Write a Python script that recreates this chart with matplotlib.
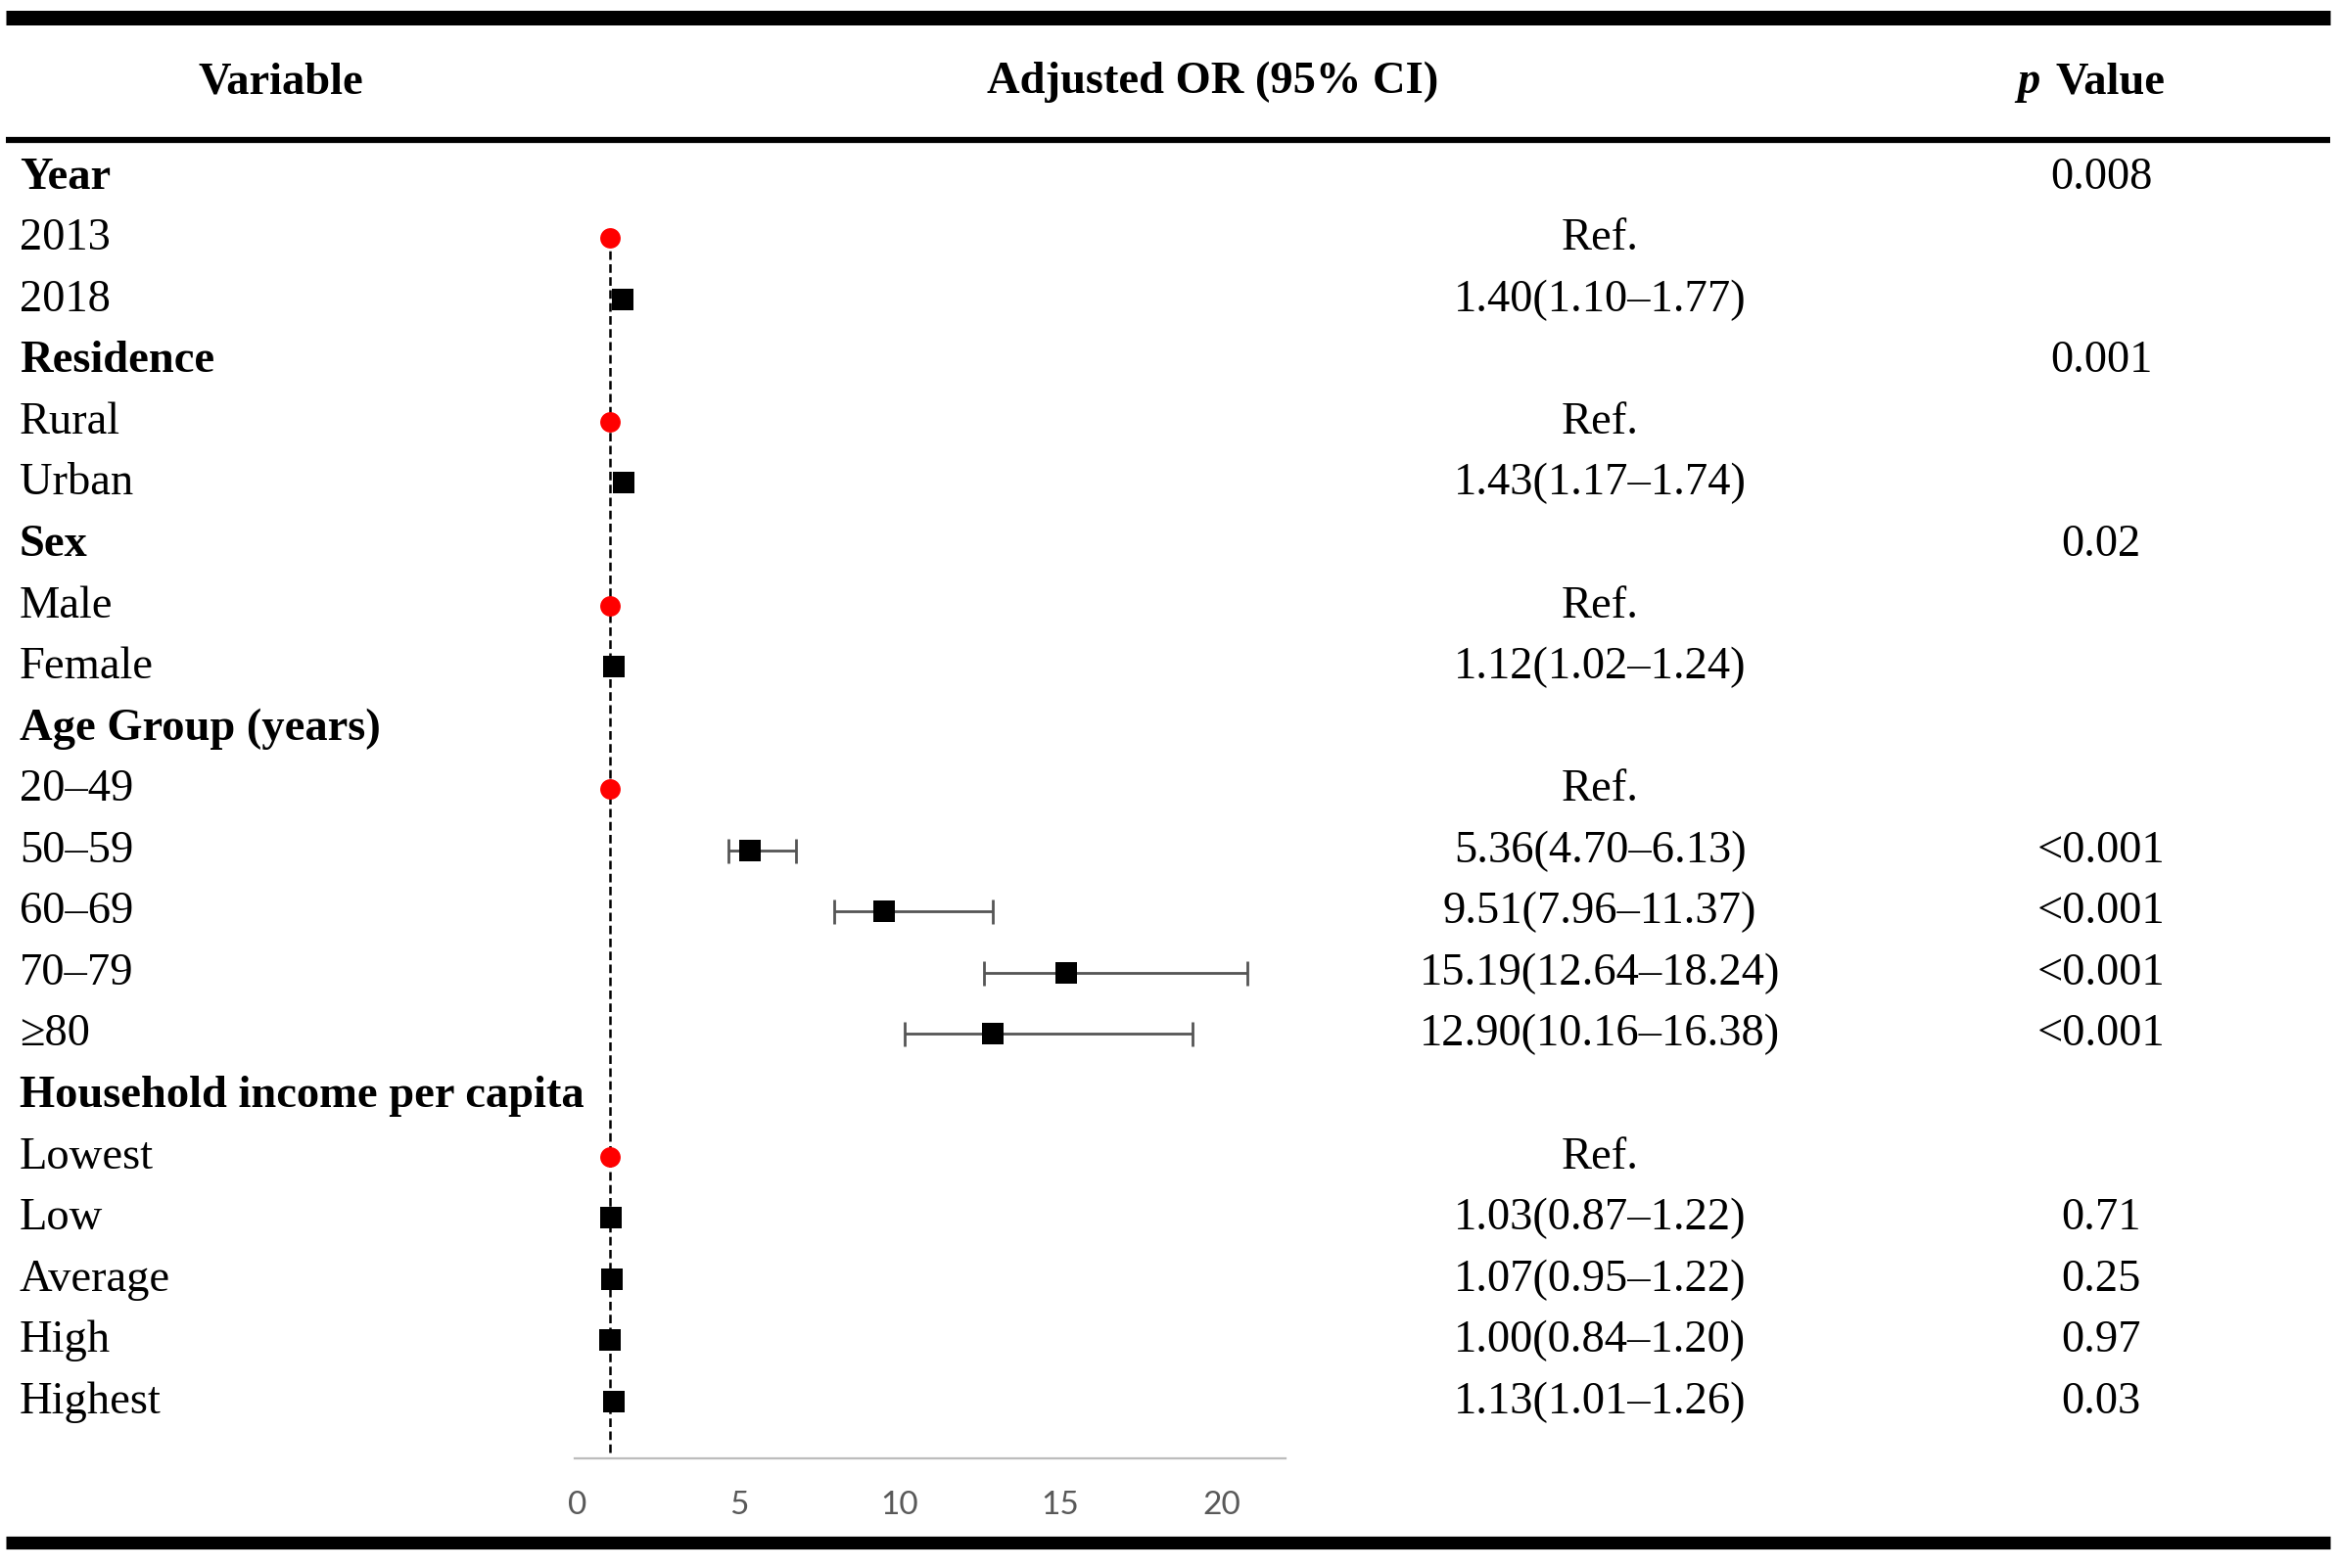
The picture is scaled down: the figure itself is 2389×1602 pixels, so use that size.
import numpy as np
import matplotlib
matplotlib.use("Agg")
import matplotlib.pyplot as plt

"""
Forest plot table of adjusted odds ratios, drawn as a table with an
inline forest plot column.
"""

# Group headers and the p value printed on the header row.
group_names = ["Year", "Residence", "Sex", "Age Group (years)", "Household income per capita"]
group_p = ["0.008", "0.001", "0.02", "", ""]

# Levels for each group.
levels = [
    ["2013", "2018"],
    ["Rural", "Urban"],
    ["Male", "Female"],
    ["20\u201349", "50\u201359", "60\u201369", "70\u201379", "\u226580"],
    ["Lowest", "Low", "Average", "High", "Highest"],
]

# Level values, in the same order as the flattened levels.
is_ref = [True, False, True, False, True, False,
          True, False, False, False, False,
          True, False, False, False, False]
odds = [1.00, 1.40, 1.00, 1.43, 1.00, 1.12,
        1.00, 5.36, 9.51, 15.19, 12.90,
        1.00, 1.03, 1.07, 1.00, 1.13]
ci_low = [np.nan, 1.10, np.nan, 1.17, np.nan, 1.02,
          np.nan, 4.70, 7.96, 12.64, 10.16,
          np.nan, 0.87, 0.95, 0.84, 1.01]
ci_high = [np.nan, 1.77, np.nan, 1.74, np.nan, 1.24,
           np.nan, 6.13, 11.37, 18.24, 16.38,
           np.nan, 1.22, 1.22, 1.20, 1.26]
level_p = ["", "", "", "", "", "",
           "", "<0.001", "<0.001", "<0.001", "<0.001",
           "", "0.71", "0.25", "0.97", "0.03"]

# Whisker ends as drawn in the figure (only the age rows show whiskers).
bar_lo = [np.nan] * 7 + [4.70, 7.96, 12.64, 10.16] + [np.nan] * 5
bar_hi = [np.nan] * 7 + [6.79, 12.90, 20.80, 19.10] + [np.nan] * 5

# Axis ticks for the forest column.
x_ticks = [0, 5, 10, 15, 20]

# Figure geometry, in pixels of the 2389 x 1602 output.
W, H = 2389, 1602
row0 = 176.7      # center of the first row
row_step = 62.55  # distance between rows
x0_px = 590.0     # pixel of OR = 0
px_per_unit = 32.87
axis_px = 1490.0
top_px = 150.0
marker_shift = 4.0

serif = ["Liberation Serif", "DejaVu Serif"]
fs = 33.5

fig = plt.figure(figsize=(W / 100, H / 100), dpi=100)

# Background axes in pixel coordinates for the table text and rules.
bg = fig.add_axes([0, 0, 1, 1])
bg.set_xlim(0, W)
bg.set_ylim(H, 0)
bg.axis("off")

# Rules.
bg.plot([6, 2380], [17.5, 17.5], color="black", lw=10.8, solid_capstyle="butt")
bg.plot([6, 2380], [142.5, 142.5], color="black", lw=4.5, solid_capstyle="butt")
bg.plot([6, 2380], [1576, 1576], color="black", lw=9.5, solid_capstyle="butt")

# Header.
head_base = 95
bg.text(287, head_base, "Variable", family=serif, fontsize=fs, weight="bold",
        ha="center", va="baseline")
bg.text(1239, head_base, "Adjusted OR (95% CI)", family=serif, fontsize=fs,
        weight="bold", ha="center", va="baseline")
bg.text(2084, head_base, "p", family=serif, fontsize=fs, weight="bold",
        style="italic", ha="right", va="baseline")
bg.text(2099, head_base, "Value", family=serif, fontsize=fs, weight="bold",
        ha="left", va="baseline")

# Build the flat list of rows: (label, bold, level index or None, p text).
rows = []
k = 0
for name, gp, lv in zip(group_names, group_p, levels):
    rows.append((name, True, None, gp))
    for lab in lv:
        rows.append((lab, False, k, level_p[k]))
        k += 1

# Table text.
for i, (label, bold, idx, ptxt) in enumerate(rows):
    base = row0 + i * row_step + 16
    bg.text(20, base, label, family=serif, fontsize=fs,
            weight="bold" if bold else "normal", ha="left", va="baseline")
    if ptxt:
        bg.text(2146, base, ptxt, family=serif, fontsize=fs, ha="center", va="baseline")
    if idx is not None:
        if is_ref[idx]:
            txt = "Ref."
        else:
            txt = f"{odds[idx]:.2f}({ci_low[idx]:.2f}\u2013{ci_high[idx]:.2f})"
        bg.text(1634, base, txt, family=serif, fontsize=fs, ha="center", va="baseline")

# Forest plot axes.
y_bottom = (axis_px - (row0 + marker_shift)) / row_step
y_top = (top_px - (row0 + marker_shift)) / row_step
x_lo = -0.1
x_hi = 22.0
left = (x0_px + x_lo * px_per_unit) / W
width = (x_hi - x_lo) * px_per_unit / W
ax = fig.add_axes([left, (H - axis_px) / H, width, (axis_px - top_px) / H])
ax.set_xlim(x_lo, x_hi)
ax.set_ylim(y_bottom, y_top)
ax.patch.set_alpha(0)

for s in ["top", "right", "left"]:
    ax.spines[s].set_visible(False)
ax.spines["bottom"].set_color("#bcbcbc")
ax.spines["bottom"].set_linewidth(1.6)
ax.set_yticks([])
ax.set_xticks(x_ticks)
ax.tick_params(axis="x", length=0, pad=24, labelsize=24, labelcolor="#595959")
for t in ax.get_xticklabels():
    t.set_family(["Lato", "DejaVu Sans"])

# Row positions of each level.
level_rows = np.array([i for i, r in enumerate(rows) if r[2] is not None])
odds_arr = np.array(odds)
ref_arr = np.array(is_ref)

# Reference line at OR = 1, starting from the first reference level.
ax.plot([1, 1], [level_rows[0], y_bottom], color="black", lw=1.8,
        linestyle=(0, (3.5, 1.8)), zorder=1)

# Whiskers.
lo = np.array(bar_lo)
hi = np.array(bar_hi)
has_bar = ~np.isnan(lo)
ax.errorbar(odds_arr[has_bar], level_rows[has_bar],
            xerr=[odds_arr[has_bar] - lo[has_bar], hi[has_bar] - odds_arr[has_bar]],
            fmt="none", ecolor="#555555", elinewidth=2.0, capsize=9, capthick=2.0,
            zorder=2)

# Reference levels as red dots, estimates as black squares.
ax.plot(odds_arr[ref_arr], level_rows[ref_arr], "o", color="red", markersize=15,
        markeredgewidth=0, zorder=3)
ax.plot(odds_arr[~ref_arr], level_rows[~ref_arr], "s", color="black", markersize=16.5,
        markeredgewidth=0, zorder=3)

fig.savefig("out.png", dpi=100)
